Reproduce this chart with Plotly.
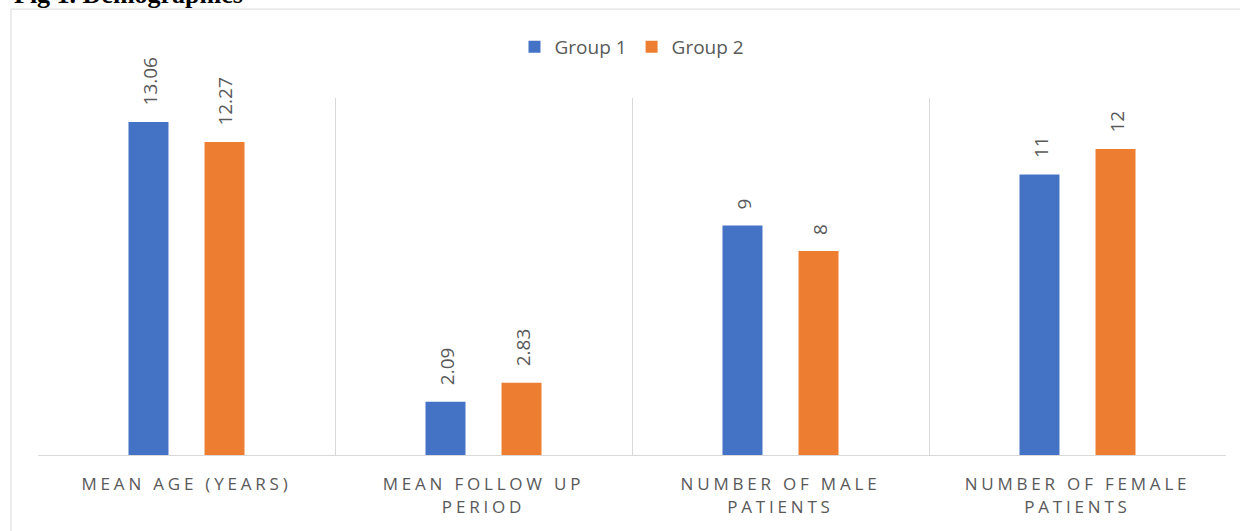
import plotly.graph_objects as go

categories = ["MEAN AGE (YEARS)", "MEAN FOLLOW UP<br>PERIOD", "NUMBER OF MALE<br>PATIENTS", "NUMBER OF FEMALE<br>PATIENTS"]
group1 = [13.06, 2.09, 9, 11]
group2 = [12.27, 2.83, 8, 12]
labels1 = ["13.06", "2.09", "9", "11"]
labels2 = ["12.27", "2.83", "8", "12"]

C1 = "#4472C4"
C2 = "#ED7D31"
GRAY = "#595959"
LINE = "#D9D9D9"
FONT = "Open Sans"

fig = go.Figure()
fig.add_trace(go.Bar(name="Group 1", x=categories, y=group1, marker=dict(color=C1, line=dict(width=0))))
fig.add_trace(go.Bar(name="Group 2", x=categories, y=group2, marker=dict(color=C2, line=dict(width=0))))

annotations = []
for cat, v, t in zip(categories, group1, labels1):
    annotations.append(dict(x=cat, y=v, xref="x", yref="y", text=t, showarrow=False,
                            textangle=-90, xanchor="center", yanchor="bottom",
                            xshift=-37, yshift=14, font=dict(family=FONT, size=19, color=GRAY)))
for cat, v, t in zip(categories, group2, labels2):
    annotations.append(dict(x=cat, y=v, xref="x", yref="y", text=t, showarrow=False,
                            textangle=-90, xanchor="center", yanchor="bottom",
                            xshift=39, yshift=14, font=dict(family=FONT, size=19, color=GRAY)))

annotations.append(dict(x=-0.022, y=1.244, xref="paper", yref="paper", text="<b>Fig 1. Demographics</b>",
                        showarrow=False, xanchor="left", yanchor="bottom",
                        font=dict(family="Liberation Serif", size=26, color="#000000")))

fig.update_layout(
    width=1240, height=531,
    margin=dict(l=38, r=14, t=98, b=76),
    paper_bgcolor="white", plot_bgcolor="white",
    barmode="group", bargap=0.488, bargroupgap=0.474,
    showlegend=True,
    legend=dict(orientation="h", x=0.5, xanchor="center", y=1.143, yanchor="middle",
                font=dict(family=FONT, size=19, color=GRAY), itemwidth=30,
                traceorder="normal"),
    xaxis=dict(showgrid=True, gridcolor=LINE, gridwidth=1, tickson="boundaries",
               showline=True, linecolor=LINE, linewidth=1, mirror=False,
               ticks="", ticklabelstandoff=14,
               tickfont=dict(family=FONT, size=17, color=GRAY)),
    yaxis=dict(range=[0, 14], showgrid=False, showticklabels=False, zeroline=False, showline=False),
    annotations=annotations,
    shapes=[dict(type="rect", xref="paper", yref="paper", x0=-0.0227, y0=-0.35, x1=1.03, y1=1.249,
                 line=dict(color=LINE, width=1), fillcolor="rgba(0,0,0,0)", layer="below")],
)

js = ("var gd=document.getElementById('{plot_id}');"
      "gd.querySelectorAll('.xtick text').forEach(function(t){t.style.letterSpacing='3.8px';});")

fig.write_html("out.html", post_script=js)
